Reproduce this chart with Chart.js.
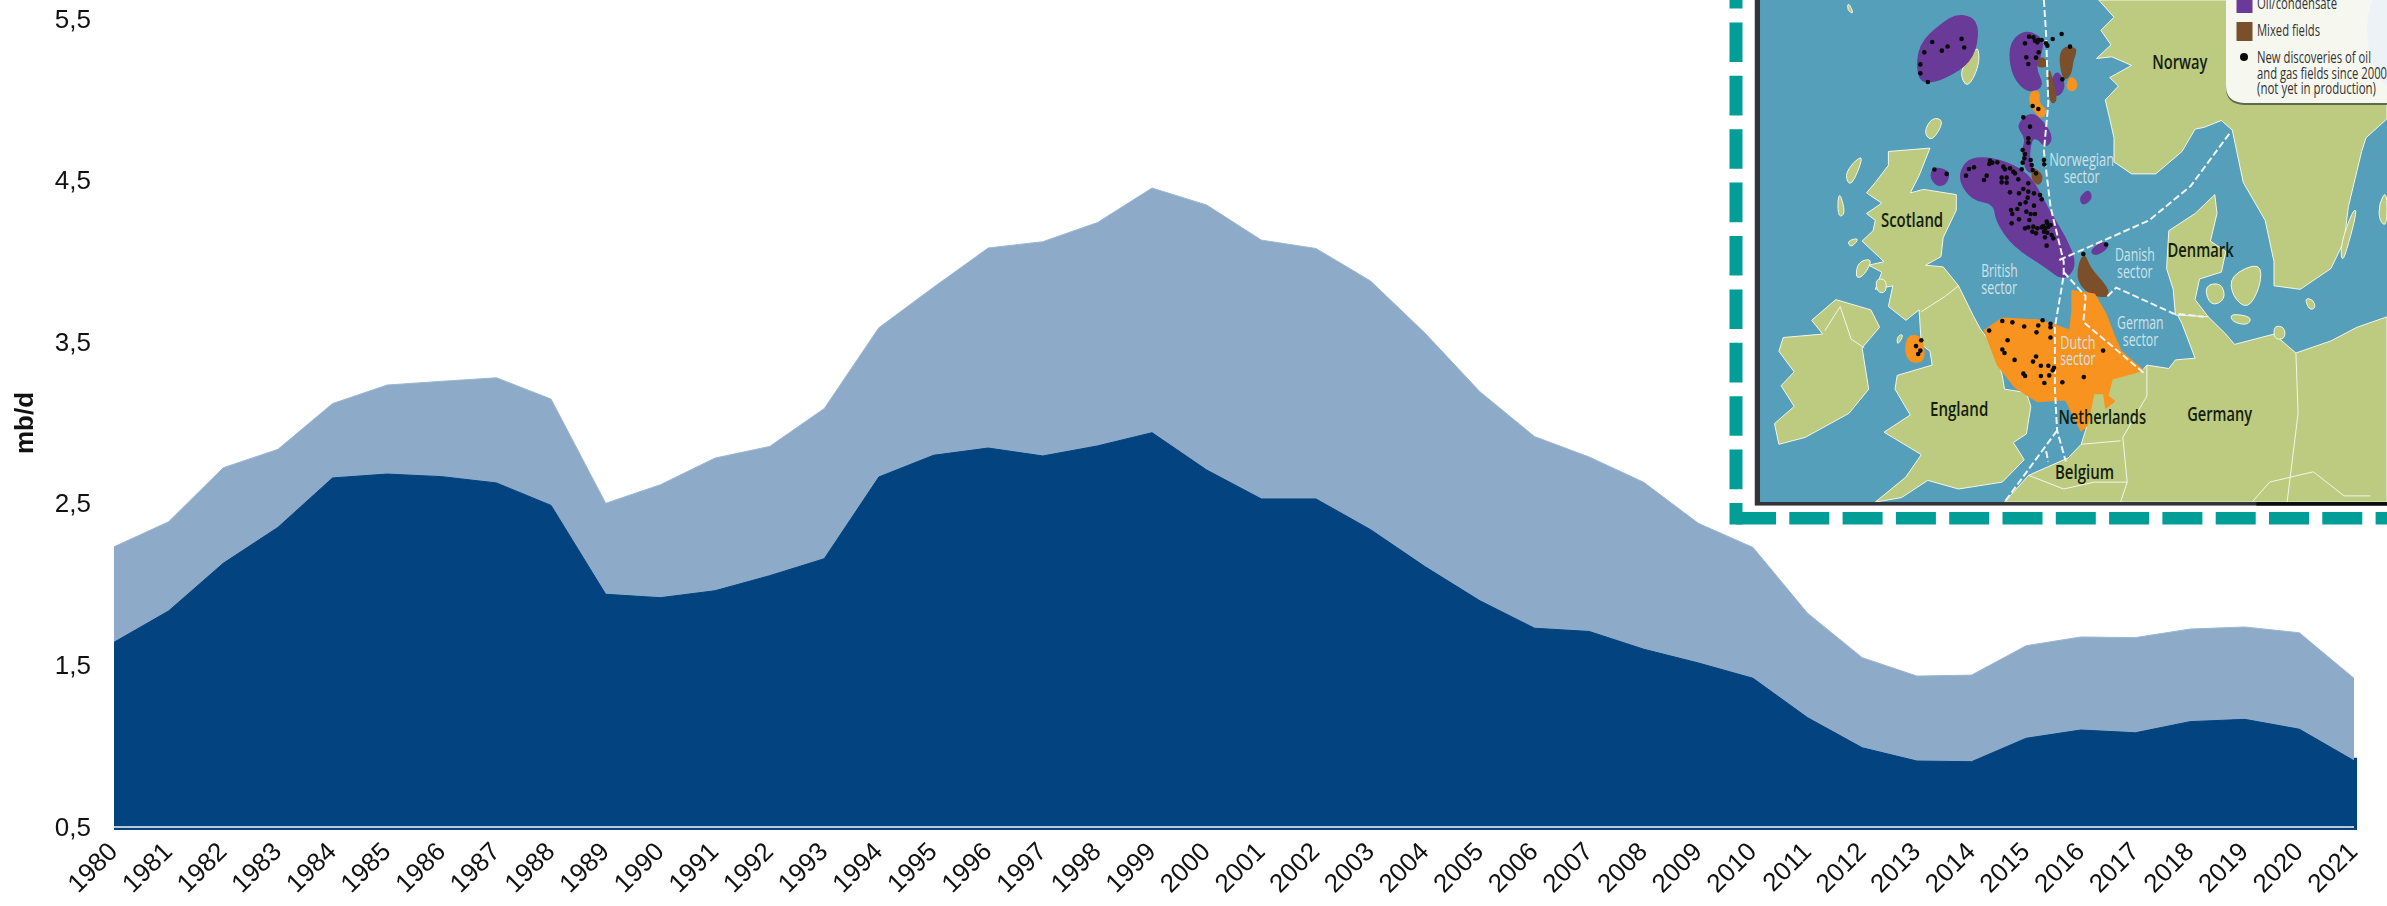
<!DOCTYPE html>
<html><head><meta charset="utf-8">
<style>
html,body{margin:0;padding:0;background:#fff;width:2387px;height:906px;overflow:hidden}
#c{position:absolute;left:0;top:0}
#map{position:absolute;left:0;top:0;pointer-events:none}
</style>
<script src="https://cdn.jsdelivr.net/npm/chart.js@4/dist/chart.umd.min.js"></script>
</head><body>
<canvas id="c" width="2387" height="906"></canvas>
<svg id="map" width="2387" height="906" xmlns="http://www.w3.org/2000/svg"></svg>
<script>
const years = [1980,1981,1982,1983,1984,1985,1986,1987,1988,1989,1990,1991,1992,1993,1994,1995,1996,1997,1998,1999,2000,2001,2002,2003,2004,2005,2006,2007,2008,2009,2010,2011,2012,2013,2014,2015,2016,2017,2018,2019,2020,2021];
const upperSeries = [2.234,2.389,2.723,2.837,3.12,3.235,3.258,3.28,3.148,2.503,2.618,2.783,2.855,3.089,3.59,3.84,4.083,4.122,4.24,4.454,4.349,4.132,4.08,3.879,3.555,3.194,2.916,2.79,2.633,2.379,2.23,1.822,1.548,1.434,1.44,1.622,1.676,1.672,1.725,1.738,1.702,1.42];
const lowerSeries = [1.643,1.837,2.132,2.354,2.66,2.684,2.668,2.629,2.49,1.94,1.919,1.962,2.055,2.16,2.666,2.8,2.845,2.796,2.858,2.94,2.709,2.53,2.53,2.34,2.11,1.9,1.73,1.71,1.6,1.515,1.42,1.176,0.99,0.908,0.904,1.049,1.1,1.083,1.152,1.166,1.105,0.91];
const yTicks = [0.5,1.5,2.5,3.5,4.5,5.5];
const yTitle = 'mb/d';

const FONT = '"Liberation Sans", Arial, sans-serif';
const baseStrip = {
  id:'baseStrip',
  afterDatasetsDraw(chart){
    const {ctx,scales:{x,y}} = chart;
    const base = y.getPixelForValue(0.5), right = x.getPixelForValue(years.length-1), left = x.getPixelForValue(0);
    const top = y.getPixelForValue(lowerSeries[lowerSeries.length-1]);
    ctx.save();
    ctx.fillStyle = '#03437F';
    ctx.fillRect(left, base-3, right-left+3, 6);
    ctx.fillRect(right, top-3, 3, base-top+6);
    ctx.fillStyle = '#B7C8DB';
    ctx.fillRect(left, base-1, right-left, 2);
    ctx.restore();
  }
};
new Chart(document.getElementById('c'),{
  type:'line',
  plugins:[baseStrip],
  data:{labels:years.map(String),datasets:[
    {label:'Upper',data:upperSeries,fill:'origin',backgroundColor:'#8DABC9',borderColor:'#9DB7D1',borderWidth:1,pointRadius:0,tension:0,order:2},
    {label:'Lower',data:lowerSeries,fill:'origin',backgroundColor:'#03437F',borderColor:'#03437F',borderWidth:1,pointRadius:0,tension:0,order:1}
  ]},
  options:{
    responsive:false,animation:false,devicePixelRatio:1,
    layout:{padding:{left:0,right:33,top:19,bottom:0}},
    plugins:{legend:{display:false},tooltip:{enabled:false}},
    scales:{
      x:{type:'category',offset:false,
        grid:{display:false,drawTicks:false},border:{display:false},
        afterFit(s){s.height=79;},
        ticks:{autoSkip:false,maxRotation:45,minRotation:45,padding:10,color:'#111',font:{family:FONT,size:26}}},
      y:{min:0.5,max:5.5,
        afterFit(s){s.width=114;s.paddingTop=0;s.paddingBottom=0;},
        afterBuildTicks(s){s.ticks=yTicks.map(v=>({value:v}));},
        grid:{display:false,drawTicks:false},border:{display:false},
        title:{display:true,text:yTitle,color:'#111',font:{family:FONT,size:26,weight:'bold'},padding:{top:10,bottom:0}},
        ticks:{padding:23,labelOffset:1.5,color:'#111',font:{family:FONT,size:26},callback:v=>String(v).replace('.',',')}}
    }
  }
});

/* Decorative inset map (not data) */
const SX=687/1568, SY=540/1568;
const fx=x=>1700+x*SX, fy=y=>y*SY;
const NS='http://www.w3.org/2000/svg';
const svg=document.getElementById('map');
function el(n,a,p){const e=document.createElementNS(NS,n);for(const k in a)e.setAttribute(k,a[k]);(p||svg).appendChild(e);return e;}
const pts=a=>a.map(p=>fx(p[0]).toFixed(1)+','+fy(p[1]).toFixed(1)).join(' ');
function smooth(a){
  const n=a.length,P=a.map(p=>[fx(p[0]),fy(p[1])]);
  const mid=(p,q)=>[(p[0]+q[0])/2,(p[1]+q[1])/2];
  let m=mid(P[n-1],P[0]),d='M'+m[0].toFixed(1)+' '+m[1].toFixed(1);
  for(let i=0;i<n;i++){const q=mid(P[i],P[(i+1)%n]);d+=' Q'+P[i][0].toFixed(1)+' '+P[i][1].toFixed(1)+' '+q[0].toFixed(1)+' '+q[1].toFixed(1);}
  return d+'Z';
}
const COL={sea:'#559FBA',land:'#BDCB80',purple:'#6A3A99',orange:'#F8931F',brown:'#7A4F2A'};

el('rect',{x:1729,y:0,width:658,height:526,fill:'#fff'});
el('rect',{x:fx(125),y:0,width:2387-fx(125),height:fy(1468),fill:'#333338'});
el('rect',{x:fx(1270),y:fy(1458),width:2387-fx(1270),height:fy(10),fill:'#0c0c0c'});
const clip=el('clipPath',{id:'mc'},el('defs',{}));
el('rect',{x:fx(137),y:0,width:2387-fx(137),height:fy(1458)},clip);
const g=el('g',{'clip-path':'url(#mc)'});
const gb=el('g',{style:'filter:blur(.45px)'},g);
el('rect',{x:fx(137),y:0,width:2387-fx(137),height:fy(1458),fill:COL.sea},gb);

const landsSharp=[
 [[910,0],[945,50],[915,88],[938,130],[905,170],[940,165],[985,190],[950,215],[935,225],[955,250],[925,290],[935,345],[945,400],[945,470],[985,505],[1040,505],[1100,440],[1130,375],[1150,370],[1190,350],[1215,378],[1240,530],[1290,640],[1310,760],[1310,830],[1370,840],[1440,780],[1470,700],[1480,600],[1510,440],[1520,400],[1568,345],[1568,0]],
 [[430,440],[525,430],[500,510],[480,560],[510,550],[585,565],[585,610],[555,690],[550,745],[515,770],[555,775],[590,830],[625,920],[640,955],[660,990],[680,1050],[690,1090],[695,1130],[745,1140],[755,1180],[745,1260],[715,1285],[740,1335],[690,1400],[590,1420],[520,1395],[460,1445],[400,1458],[470,1385],[505,1320],[420,1255],[480,1205],[445,1130],[450,1090],[530,1060],[525,1020],[505,1000],[500,900],[470,930],[430,890],[440,830],[400,840],[415,790],[385,770],[420,760],[370,700],[395,670],[400,640],[380,620],[415,590],[380,560],[400,530],[430,480]],
 [[190,980],[280,970],[255,930],[310,870],[390,900],[410,950],[370,1010],[385,1130],[340,1200],[240,1270],[180,1290],[170,1230],[215,1180],[185,1120],[215,1080],[180,1020]],
 [[1070,670],[1130,620],[1175,565],[1180,620],[1165,700],[1200,730],[1190,790],[1140,810],[1130,870],[1160,920],[1085,915],[1080,840],[1065,780]],
 [[695,1458],[750,1380],[840,1330],[870,1290],[880,1250],[900,1145],[940,1100],[1010,1075],[1020,1060],[1070,1070],[1085,1045],[1130,1040],[1100,940],[1090,915],[1160,920],[1200,970],[1220,1000],[1310,970],[1360,1025],[1440,990],[1500,950],[1568,920],[1568,1458]]
];
const landsRound=[
 [[1150,830],[1190,820],[1200,870],[1165,890]],
 [[1210,800],[1280,760],[1280,830],[1250,900],[1215,860]],
 [[1210,910],[1260,920],[1250,945],[1215,935]],
 [[1380,865],[1400,870],[1405,895],[1390,900]],
 [[1310,945],[1335,950],[1335,985],[1310,985]],
 [[1490,610],[1500,610],[1480,710],[1465,765],[1462,710]],
 [[1550,590],[1568,550],[1568,660],[1550,640]],
 [[635,130],[638,190],[610,260],[592,210],[615,170]],
 [[530,340],[558,350],[530,412],[510,385]],
 [[375,450],[345,545],[330,510],[350,470]],
 [[320,560],[332,620],[316,632],[314,580]],
 [[335,700],[365,690],[345,720]],
 [[360,760],[395,750],[375,800],[355,810]],
 [[400,810],[425,810],[425,850],[405,850]],
 [[450,975],[466,970],[450,1005]],
 [[338,5],[352,42],[336,30]]
];
landsSharp.forEach(p=>el('polygon',{points:pts(p),fill:COL.land,stroke:'#F3F6EA','stroke-width':1,'stroke-linejoin':'round'},gb));
landsRound.forEach(p=>el('path',{d:smooth(p),fill:COL.land,stroke:'#F3F6EA','stroke-width':1},gb));
const landLines=[
 [[505,905],[560,860],[590,830]],
 [[285,960],[320,890],[345,985],[375,1010]],
 [[1360,1025],[1365,1200],[1340,1458]],
 [[1020,1060],[1020,1150],[965,1270],[975,1400],[960,1458]],
 [[870,1290],[960,1280]],
 [[750,1380],[830,1420],[900,1400],[975,1400]],
 [[1260,1458],[1300,1400],[1400,1370],[1470,1440],[1530,1440]]
];
landLines.forEach(b=>el('polyline',{points:pts(b),fill:'none',stroke:'#F3F6EA','stroke-width':1},gb));
const fields=[
 [COL.purple,[[590,40],[635,60],[630,150],[595,205],[520,245],[495,220],[500,130],[550,70]]],
 [COL.purple,[[750,90],[785,115],[775,170],[765,200],[785,250],[750,270],[715,225],[705,150],[720,105]]],
 [COL.purple,[[815,200],[835,250],[815,285],[798,250]]],
 [COL.purple,[[755,325],[785,355],[805,400],[790,430],[770,400],[755,405],[750,470],[765,500],[745,500],[735,440],[745,400],[722,365]]],
 [COL.purple,[[640,455],[700,470],[755,510],[795,610],[835,690],[860,770],[830,815],[790,775],[715,715],[675,640],[672,590],[620,580],[590,520],[605,470]]],
 [COL.purple,[[535,485],[570,497],[562,535],[540,540],[525,510]]],
 [COL.purple,[[887,550],[895,575],[875,597],[866,575]]],
 [COL.purple,[[920,700],[935,715],[905,742],[890,730]]],
 [COL.brown,[[830,135],[862,140],[850,175],[847,215],[830,235],[820,170]]],
 [COL.brown,[[778,160],[800,190],[768,197]]],
 [COL.brown,[[795,190],[805,240],[815,295],[798,300]]],
 [COL.brown,[[875,730],[890,780],[930,835],[932,865],[885,852],[858,805]]],
 [COL.brown,[[760,485],[783,510],[775,540],[757,520]]],
 [COL.orange,[[845,220],[862,240],[855,265],[835,258]]],
 [COL.orange,[[755,265],[775,265],[772,300],[792,320],[780,345],[765,325],[752,300]]],
 [COL.orange,[[475,972],[508,978],[513,1050],[480,1053],[468,1020]]]
];
fields.forEach(f=>el('path',{d:smooth(f[1]),fill:f[0],stroke:f[0],'stroke-width':1.5},gb));
el('polygon',{points:pts([[850,845],[900,855],[925,910],[945,975],[960,1020],[1010,1075],[940,1100],[930,1150],[945,1165],[920,1190],[870,1250],[835,1160],[770,1165],[720,1125],[680,1060],[650,960],[690,925],[770,930],[810,945],[845,960],[850,900]]),fill:COL.orange,stroke:COL.orange,'stroke-width':2,'stroke-linejoin':'round'},gb);
const netherlandsLand=[[900,1145],[920,1145],[925,1190],[885,1240]];
el('polygon',{points:pts(netherlandsLand),fill:COL.land},gb);
const borders=[
 [[785,0],[790,100],[795,300],[785,440],[800,600],[830,760],[830,800],[810,950],[810,1130],[815,1250],[835,1340]],
 [[820,755],[1025,640],[1120,540],[1210,385]],
 [[830,790],[880,860],[875,935],[1015,1085]],
 [[930,860],[950,835],[1080,910],[1150,920]],
 [[815,1250],[695,1458]],
 [[790,1310],[795,1340]]
];
borders.forEach(b=>el('polyline',{points:pts(b),fill:'none',stroke:'#EEF4F5','stroke-width':2,'stroke-dasharray':'7 3'},gb));

const dotsNorth=[[207,80],[220,82],[225,92],[235,90],[232,97],[245,90],[258,100],[262,107],[278,87],[305,72],[330,110],[195,100],[236,127],[228,143],[199,142],[205,162],[307,208],[218,288],[235,297],[190,322],[210,350],[205,385],[205,398],[188,420],[195,432],[193,445],[212,450],[188,458],[215,465],[252,450],[253,463],[228,490],[218,480],[90,452],[97,458],[88,462],[112,457],[130,470],[135,478],[150,475],[160,485],[165,490],[185,478],[42,472],[27,477],[18,497],[80,497],[72,510],[125,503],[140,503],[125,517],[140,518],[175,508],[205,520],[150,547],[177,550],[190,537],[205,545],[222,550],[240,555],[245,568],[203,563],[197,577],[222,587],[180,582],[172,597],[153,600],[157,612],[199,605],[212,612],[225,612],[177,628],[208,630],[155,640],[260,635],[195,655],[205,652],[220,650],[232,655],[245,652],[250,648],[256,655],[262,640],[265,650],[272,645],[252,665],[262,668],[275,675],[280,685],[217,665],[228,670],[255,682],[260,707],[370,732]];
dotsNorth.forEach(d=>el('circle',{cx:1960+d[0]/3,cy:10+d[1]/3,r:2.3,fill:'#0b0b0b'},g));
const dotsOther=[[660,960],[690,932],[713,936],[740,948],[782,930],[772,945],[768,965],[800,940],[800,950],[800,980],[702,988],[690,1015],[695,1025],[718,1045],[767,1035],[760,1050],[778,1062],[795,1062],[808,1068],[738,1085],[742,1092],[778,1092],[797,1090],[805,1075],[786,1112],[827,1110],[876,1095],[920,1018],[493,1005],[505,988],[503,1018],[498,1028],[530,122],[597,113],[512,152],[565,135],[552,147],[603,138],[503,187],[503,213],[520,238],[535,492],[563,505],[927,710]];
dotsOther.forEach(d=>el('circle',{cx:fx(d[0]),cy:fy(d[1]),r:2.3,fill:'#0b0b0b'},g));

function mapText(t,x0,x1,cy,size,color,weight,parent){
  const e=el('text',{x:fx(x0),y:fy(cy),'font-family':'"Open Sans","Noto Sans",sans-serif','font-size':size,'font-weight':weight,fill:color,'dominant-baseline':'central',textLength:(x1-x0)*SX,lengthAdjust:'spacingAndGlyphs'},parent||g);
  e.textContent=t;
}
[['Norway',1032,1158,178],['Scotland',413,555,636],['Denmark',1067,1218,725],['England',525,658,1187],['Netherlands',818,1018,1210],['Germany',1112,1260,1202],['Belgium',810,945,1370]]
 .forEach(l=>mapText(l[0],l[1],l[2],l[3],20,'#14200f',600));
[['Norwegian',797,945,461],['sector',830,912,510],['British',642,725,785],['sector',642,724,834],['Danish',947,1038,738],['sector',952,1033,787],['German',952,1058,935],['sector',965,1046,983],['Dutch',822,903,992],['sector',822,903,1040]]
 .forEach(l=>mapText(l[0],l[1],l[2],l[3],18,'#CFE2E8',400));

/* legend box */
el('path',{d:'M2226,-4 V88 Q2226,104 2244,105 H2387 V-4 Z',fill:'#3d4a3a',opacity:.75},g);
el('path',{d:'M2226,-4 V86 Q2226,102 2244,103 H2387 V-4 Z',fill:'#F6F8F0'},g);
el('path',{d:'M2372,0 Q2362,30 2372,60 Q2378,80 2387,86 V0 Z',fill:'#EDF2F6'},g);
el('rect',{x:2236.5,y:-4,width:16,height:17,fill:COL.purple},g);
el('rect',{x:2236.5,y:22,width:16,height:19,fill:COL.brown},g);
el('circle',{cx:2244,cy:57,r:4,fill:'#0b0b0b'},g);
function legText(t,x0,x1,cy){const e=el('text',{x:x0,y:cy,'font-family':'"Open Sans","Noto Sans",sans-serif','font-size':15.5,fill:'#333','dominant-baseline':'central',textLength:x1-x0,lengthAdjust:'spacingAndGlyphs'},g);e.textContent=t;}
legText('Oil/condensate',2257,2337,3);
legText('Mixed fields',2257,2320,30);
legText('New discoveries of oil',2257,2371,57);
legText('and gas fields since 2000',2257,2387,73);
legText('(not yet in production)',2257,2376,88);

/* dashed frame */
el('line',{x1:1736,y1:0,x2:1736,y2:524.5,stroke:'#009E96','stroke-width':13,'stroke-dasharray':'39.6 13.8','stroke-dashoffset':31});
el('line',{x1:1736,y1:518.3,x2:2387,y2:518.3,stroke:'#009E96','stroke-width':12.5,'stroke-dasharray':'40 13.3'});
</script>
</body></html>
